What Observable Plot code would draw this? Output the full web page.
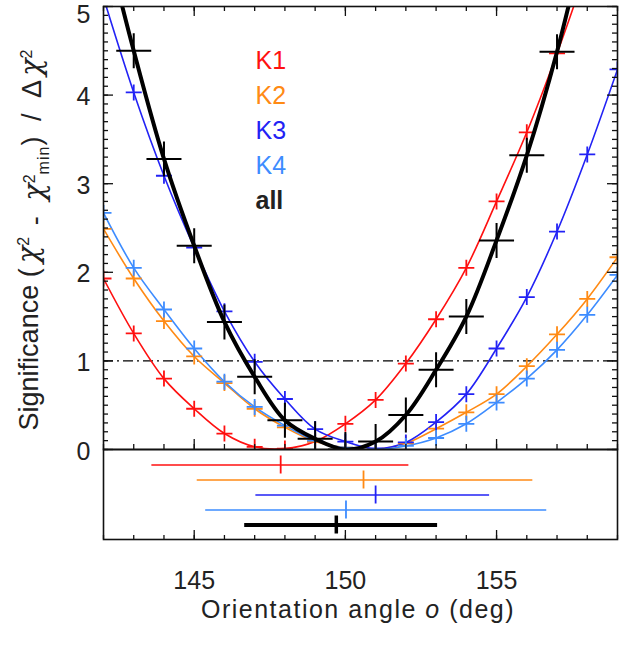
<!DOCTYPE html>
<html>
<head>
<meta charset="utf-8">
<script src="https://cdn.jsdelivr.net/npm/d3@7"></script>
<script src="https://cdn.jsdelivr.net/npm/@observablehq/plot@0.6"></script>
<style>
  body { margin: 0; background: #fff; }
  #chart { position: relative; width: 632px; height: 646px; }
  #chart svg { display: block; overflow: visible; }
  #lower { position: absolute; left: 0; top: 0; }
</style>
</head>
<body>
<div id="chart"><div id="main"></div><div id="lower"></div></div>
<script>
// ---------- data ----------
const angles = [142,143,144,145,146,147,148,149,150,151,152,153,154,155,156,157,158,159];
const k1 = [1.93,1.31,0.80,0.46,0.18,0.03,0.01,0.09,0.29,0.56,0.97,1.47,2.05,2.80,3.58,4.47,5.45,6.50];
const k2 = [2.49,1.93,1.45,1.05,0.75,0.46,0.25,0.09,0.02,0.00,0.07,0.235,0.42,0.625,0.94,1.30,1.70,2.17];
const k3 = [5.10,4.03,3.09,2.28,1.56,0.99,0.57,0.23,0.09,0.01,0.08,0.31,0.625,1.14,1.72,2.46,3.33,4.29];
const k4 = [2.67,2.05,1.58,1.14,0.765,0.48,0.27,0.10,0.02,0.00,0.04,0.13,0.29,0.53,0.80,1.125,1.52,1.97];
const allAngles = [142,143,144,145,146,147,148,149,150,151,152,153,154,155,156,157,158];
const allValues = [5.85,4.50,3.28,2.30,1.44,0.82,0.33,0.12,0.00,0.09,0.39,0.90,1.50,2.36,3.32,4.49,5.90];

const seriesNames = ["K1","K2","K3","K4","all"];
const seriesColors = ["#ff1010","#ff8a14","#2222f5","#3d8cff","#000000"];

// best-fit orientation and its range (lower panel)
const fitBest = [147.86,150.60,151.00,150.02,149.70];
const fitLow  = [143.60,145.10,147.04,145.38,146.67];
const fitHigh = [152.10,156.20,154.77,156.66,153.05];

const xMajorTicks = [145,150,155];
const yMajorTicks = [0,1,2,3,4,5];
const yLabelTicks = [0,1,2,3,4];
const yTopLabel = [5];

// ---------- tables ----------
const bandValues = [k1,k2,k3,k4];
const rows = [];
bandValues.forEach((vals, s) => vals.forEach((v, i) => rows.push({angle: angles[i], value: v, series: seriesNames[s]})));
const allRows = allAngles.map((a, i) => ({angle: a, value: allValues[i]}));
const fitRows = seriesNames.map((s, i) => ({series: s, best: fitBest[i], low: fitLow[i], high: fitHigh[i]}));

const xMinorTicks = d3.range(142, 159.01, 1);
const yMinorTicks = d3.range(0, 5.001, 0.1).map(d => +d.toFixed(1));

// ---------- layout ----------
const W = 632, H = 646, mL = 103, mR = 15;
const frameW = W - mL - mR;
const mainTop = 6, mainBottomEdge = 449;
const mainFrameH = mainBottomEdge - mainTop;
const lowerBottomEdge = 539;
const lowerFrameH = lowerBottomEdge - mainBottomEdge;
const font = "'Liberation Sans', Arial, Helvetica, sans-serif";
const ink = "#111";

const plusSymbol = {
  draw(ctx, size) {
    const r = Math.sqrt(size / Math.PI);
    ctx.moveTo(-r, 0); ctx.lineTo(r, 0);
    ctx.moveTo(0, -r); ctx.lineTo(0, r);
  }
};

const colorScale = {domain: seriesNames, range: seriesColors};

const legendMarks = seriesNames.map((name, i) =>
  Plot.text([name], {
    text: d => d,
    frameAnchor: "top-left",
    dx: 152, dy: 54 + 35 * i,
    textAnchor: "start", lineAnchor: "middle",
    fill: seriesColors[i] === "#000000" ? "#222" : seriesColors[i],
    fontSize: 25,
    fontWeight: name === "all" ? "bold" : "normal"
  })
);

const main = Plot.plot({
  width: W, height: H,
  marginLeft: mL, marginRight: mR, marginTop: mainTop, marginBottom: H - mainBottomEdge,
  style: {fontFamily: font, fontSize: "25px", color: "#222", background: "white", overflow: "visible"},
  x: {domain: [142, 159], axis: null},
  y: {domain: [0, 5.0]},
  color: colorScale,
  marks: [
    Plot.ruleY([1], {stroke: "#000", strokeWidth: 1.3, strokeDasharray: "10,4,2,4"}),
    Plot.line(rows, {x: "angle", y: "value", z: "series", stroke: "series", strokeWidth: 1.6, curve: "catmull-rom", clip: true}),
    Plot.dot(rows, {x: "angle", y: "value", stroke: "series", fill: "none", symbol: plusSymbol, r: 8, strokeWidth: 1.8, clip: true}),
    Plot.line(allRows, {x: "angle", y: "value", stroke: "#000", strokeWidth: 4, curve: "catmull-rom", clip: true}),
    Plot.dot(allRows, {x: "angle", y: "value", stroke: "#000", fill: "none", symbol: plusSymbol, r: 17.5, strokeWidth: 2, clip: true}),
    // inward ticks
    Plot.ruleX(xMinorTicks, {x: d => d, insetTop: mainFrameH - 5, stroke: ink, strokeWidth: 1.3}),
    Plot.ruleX(xMajorTicks, {x: d => d, insetTop: mainFrameH - 10, stroke: ink, strokeWidth: 1.3}),
    Plot.ruleX(xMinorTicks, {x: d => d, insetBottom: mainFrameH - 5, stroke: ink, strokeWidth: 1.3}),
    Plot.ruleX(xMajorTicks, {x: d => d, insetBottom: mainFrameH - 10, stroke: ink, strokeWidth: 1.3}),
    Plot.ruleY(yMinorTicks, {y: d => d, insetRight: frameW - 5, stroke: ink, strokeWidth: 1.3}),
    Plot.ruleY(yMajorTicks, {y: d => d, insetRight: frameW - 10, stroke: ink, strokeWidth: 1.3}),
    Plot.ruleY(yMinorTicks, {y: d => d, insetLeft: frameW - 5, stroke: ink, strokeWidth: 1.3}),
    Plot.ruleY(yMajorTicks, {y: d => d, insetLeft: frameW - 10, stroke: ink, strokeWidth: 1.3}),
    Plot.axisY({ticks: yLabelTicks, tickSize: 0, tickPadding: 13, dy: 2, tickFormat: d => String(d), label: null, fontSize: 25}),
    Plot.axisY({ticks: yTopLabel, tickSize: 0, tickPadding: 13, dy: 8, tickFormat: d => String(d), label: null, fontSize: 25}),
    ...legendMarks,
    Plot.frame({stroke: ink, strokeWidth: 1.6})
  ]
});

const lower = Plot.plot({
  width: W, height: H,
  marginLeft: mL, marginRight: mR, marginTop: mainBottomEdge, marginBottom: H - lowerBottomEdge,
  style: {fontFamily: font, fontSize: "25px", color: "#222", background: "transparent", overflow: "visible"},
  x: {domain: [142, 159]},
  y: {type: "band", domain: seriesNames, paddingInner: 0, paddingOuter: 0.5, axis: null},
  color: colorScale,
  marks: [
    Plot.ruleY(fitRows.filter(d => d.series !== "all"), {y: "series", x1: "low", x2: "high", stroke: "series", strokeWidth: 1.6}),
    Plot.tickX(fitRows.filter(d => d.series !== "all"), {x: "best", y: "series", stroke: "series", strokeWidth: 1.8, insetTop: -1.5, insetBottom: -1.5}),
    Plot.ruleY(fitRows.filter(d => d.series === "all"), {y: "series", x1: "low", x2: "high", stroke: "#000", strokeWidth: 4}),
    Plot.tickX(fitRows.filter(d => d.series === "all"), {x: "best", y: "series", stroke: "#000", strokeWidth: 3.5, insetTop: -1.5, insetBottom: -1.5}),
    Plot.ruleX(xMinorTicks, {x: d => d, insetTop: lowerFrameH - 4, stroke: ink, strokeWidth: 1.3}),
    Plot.ruleX(xMajorTicks, {x: d => d, insetTop: lowerFrameH - 9, stroke: ink, strokeWidth: 1.3}),
    Plot.axisX({ticks: xMajorTicks, tickSize: 0, tickPadding: 32, tickFormat: d => String(d), label: null, fontSize: 25}),
    Plot.frame({stroke: ink, strokeWidth: 1.6})
  ]
});

document.getElementById("main").append(main);
document.getElementById("lower").append(lower);

// ---------- axis titles (rich text) ----------
const greek = "'DejaVu Serif', 'Liberation Serif', serif";
const yTitle = d3.select(main).append("text")
  .attr("transform", "translate(38,240) rotate(-90)")
  .attr("text-anchor", "middle")
  .attr("fill", "#222")
  .style("font-family", font)
  .style("font-size", "27px");
yTitle.append("tspan").text("Significance ");
yTitle.append("tspan").text("(").style("letter-spacing", "5px");
const chi = () => yTitle.append("tspan").text("χ").style("font-family", greek).style("font-style", "italic").style("font-size", "29px");
chi();
yTitle.append("tspan").text("2").attr("dy", "-0.55em").style("font-size", "16px");
yTitle.append("tspan").text(" - ").attr("dy", "0.55em").style("letter-spacing", "4px");
chi();
yTitle.append("tspan").text("2").attr("dy", "-0.55em").style("font-size", "16px");
yTitle.append("tspan").text("min").attr("dy", "0.85em").style("font-size", "16px").style("letter-spacing", "1px");
yTitle.append("tspan").text(") / Δ").attr("dy", "-0.3em").style("letter-spacing", "4px");
chi();
yTitle.append("tspan").text("2").attr("dy", "-0.55em").style("font-size", "16px");

const xTitle = d3.select(lower).append("text")
  .attr("x", 358).attr("y", 618)
  .attr("text-anchor", "middle")
  .attr("fill", "#222")
  .style("font-family", font)
  .style("font-size", "25px")
  .style("letter-spacing", "1.5px");
xTitle.append("tspan").text("Orientation angle ");
xTitle.append("tspan").text("o").style("font-style", "italic");
xTitle.append("tspan").text(" (deg)");
</script>
</body>
</html>
